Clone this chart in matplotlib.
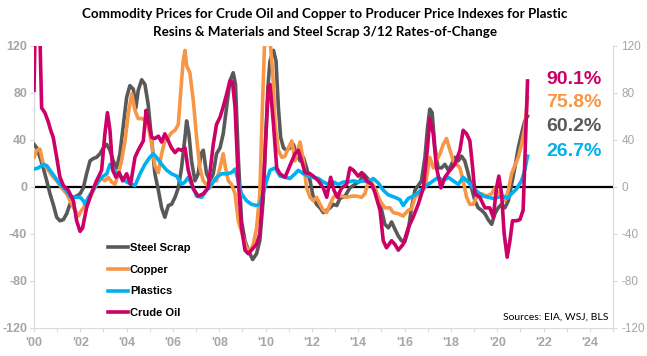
import matplotlib
matplotlib.use("Agg")
import matplotlib.pyplot as plt
from matplotlib.ticker import MultipleLocator

plt.rcParams["axes.unicode_minus"] = False

# --- data (year, 3/12 rate-of-change %) ---
crude_years = [2000.0, 2000.04, 2000.26, 2000.33, 2000.47, 2000.62, 2000.72, 2000.83, 2000.98,
               2001.12, 2001.27, 2001.48, 2001.7, 2001.84, 2001.99, 2002.1, 2002.27, 2002.49,
               2002.7, 2002.92, 2003.06, 2003.17, 2003.28, 2003.4, 2003.54, 2003.68, 2003.83,
               2004.0, 2004.17, 2004.36, 2004.5, 2004.72, 2004.84, 2004.93, 2005.08, 2005.22,
               2005.37, 2005.51, 2005.65, 2005.8, 2005.94, 2006.09, 2006.23, 2006.37, 2006.52,
               2006.66, 2006.88, 2007.09, 2007.31, 2007.52, 2007.74, 2007.88, 2008.03, 2008.17,
               2008.32, 2008.46, 2008.57, 2008.68, 2008.82, 2008.96, 2009.11, 2009.25, 2009.39,
               2009.61, 2009.75, 2009.9, 2010.04, 2010.12, 2010.19, 2010.34, 2010.48, 2010.62,
               2010.84, 2011.05, 2011.27, 2011.41, 2011.56, 2011.7, 2011.92, 2012.06, 2012.28,
               2012.49, 2012.64, 2012.81, 2012.95, 2013.1, 2013.28, 2013.5, 2013.64, 2013.79,
               2014.0, 2014.15, 2014.36, 2014.58, 2014.72, 2014.94, 2015.08, 2015.22, 2015.44,
               2015.58, 2015.73, 2015.94, 2016.16, 2016.37, 2016.59, 2016.81, 2016.99, 2017.09,
               2017.24, 2017.38, 2017.57, 2017.74, 2017.96, 2018.17, 2018.39, 2018.53, 2018.68,
               2018.82, 2018.94, 2019.04, 2019.25, 2019.47, 2019.68, 2019.83, 2019.97, 2020.07,
               2020.19, 2020.3, 2020.43, 2020.55, 2020.66, 2020.83, 2020.98, 2021.12, 2021.22,
               2021.31]
crude_vals = [82, 125, 125, 67, 63, 55, 48, 42, 25,
              8, 1, -3, -12, -29, -38, -35, -18, -5,
              5, 14, 45, 63, 48, 14, 8, 12, 5,
              11, 2, 25, 31, 39, 65, 56, 42, 41,
              43, 38, 45, 39, 33, 29, 32, 31, 33,
              14, -2, -8, -6, -1, 36, 53, 59, 68,
              79, 90, 89, 68, 5, -35, -54, -57, -54,
              -49, -40, -1, 53, 85, 87, 53, 16, 11,
              8, 18, 28, 31, 22, 12, 11, 9, 5,
              -1, -9, 8, -3, -9, -1, 2, 16, 14,
              9, 12, 5, 2, -5, -20, -46, -52, -46,
              -49, -54, -49, -35, -26, -15, -1, 33, 58,
              45, 16, -1, 8, 14, 19, 31, 48, 45,
              39, 16, -6, -9, -18, -18, -26, -1, 9,
              -6, -40, -60, -46, -29, -29, -28, -20, 39,
              90]

steel_years = [2000.0, 2000.12, 2000.26, 2000.4, 2000.55, 2000.69, 2000.83, 2000.98, 2001.12,
               2001.27, 2001.41, 2001.55, 2001.7, 2001.84, 2001.99, 2002.13, 2002.27, 2002.42,
               2002.56, 2002.7, 2002.85, 2002.99, 2003.14, 2003.28, 2003.42, 2003.57, 2003.71,
               2003.86, 2004.0, 2004.14, 2004.29, 2004.4, 2004.5, 2004.65, 2004.79, 2004.93,
               2005.08, 2005.22, 2005.37, 2005.51, 2005.65, 2005.8, 2005.94, 2006.09, 2006.23,
               2006.37, 2006.52, 2006.59, 2006.69, 2006.8, 2006.95, 2007.09, 2007.21, 2007.31,
               2007.45, 2007.6, 2007.74, 2007.88, 2008.03, 2008.17, 2008.32, 2008.46, 2008.6,
               2008.7, 2008.82, 2008.96, 2009.11, 2009.25, 2009.44, 2009.61, 2009.75, 2009.9,
               2010.0, 2010.1, 2010.19, 2010.34, 2010.45, 2010.55, 2010.65, 2010.77, 2010.91,
               2011.05, 2011.2, 2011.34, 2011.49, 2011.63, 2011.77, 2011.92, 2012.06, 2012.2,
               2012.35, 2012.49, 2012.64, 2012.78, 2012.93, 2013.07, 2013.21, 2013.43, 2013.64,
               2013.86, 2014.08, 2014.22, 2014.36, 2014.51, 2014.72, 2014.87, 2015.01, 2015.15,
               2015.3, 2015.44, 2015.58, 2015.73, 2015.87, 2016.01, 2016.16, 2016.3, 2016.45,
               2016.59, 2016.73, 2016.88, 2016.99, 2017.09, 2017.19, 2017.31, 2017.45, 2017.6,
               2017.74, 2017.89, 2018.03, 2018.17, 2018.32, 2018.46, 2018.6, 2018.75, 2018.89,
               2019.04, 2019.18, 2019.32, 2019.47, 2019.61, 2019.76, 2019.9, 2020.04, 2020.19,
               2020.33, 2020.48, 2020.62, 2020.76, 2020.91, 2021.05, 2021.19, 2021.31]
steel_vals = [36, 33, 25, 16, 5, -6, -15, -26, -29,
              -28, -23, -15, -9, -8, -6, -1, 11, 22,
              24, 25, 28, 33, 36, 31, 22, 16, 28,
              53, 76, 86, 83, 67, 82, 91, 87, 70,
              39, 11, -3, -18, -26, -16, -15, -9, -1,
              16, 42, 56, 45, 22, 5, 11, 28, 31,
              11, 5, 11, 28, 33, 45, 68, 90, 97,
              87, 25, -29, -46, -54, -62, -57, -46, -10,
              40, 85, 107, 116, 107, 68, 42, 33, 31,
              33, 36, 28, 22, 25, 16, 5, -9, -15,
              -18, -22, -20, -18, -15, -16, -10, -8, -1,
              2, 5, 11, 8, 4, -1, -10, -20, -32,
              -35, -30, -36, -42, -46, -47, -37, -18, -3,
              1, 5, 25, 50, 66, 63, 33, 16, 16,
              19, 14, 19, 25, 22, 26, 22, 11, -1,
              -12, -18, -20, -23, -28, -32, -23, -18, -15,
              -18, -12, 2, 16, 33, 45, 56, 60]

copper_years = [2000.0, 2000.12, 2000.26, 2000.4, 2000.55, 2000.69, 2000.83, 2000.98, 2001.19,
                2001.41, 2001.63, 2001.77, 2001.91, 2002.06, 2002.2, 2002.35, 2002.49, 2002.63,
                2002.78, 2002.92, 2003.06, 2003.21, 2003.35, 2003.5, 2003.64, 2003.78, 2003.93,
                2004.07, 2004.22, 2004.36, 2004.5, 2004.65, 2004.79, 2004.94, 2005.08, 2005.22,
                2005.37, 2005.51, 2005.65, 2005.8, 2005.94, 2006.09, 2006.23, 2006.34, 2006.44,
                2006.52, 2006.59, 2006.73, 2006.88, 2007.02, 2007.16, 2007.31, 2007.45, 2007.6,
                2007.74, 2007.88, 2008.03, 2008.17, 2008.27, 2008.39, 2008.53, 2008.68, 2008.82,
                2009.03, 2009.18, 2009.32, 2009.47, 2009.61, 2009.75, 2009.85, 2009.95, 2010.05,
                2010.19, 2010.31, 2010.41, 2010.55, 2010.7, 2010.84, 2010.98, 2011.13, 2011.27,
                2011.41, 2011.49, 2011.63, 2011.77, 2011.92, 2012.06, 2012.2, 2012.35, 2012.49,
                2012.64, 2012.78, 2012.93, 2013.07, 2013.28, 2013.5, 2013.72, 2013.93, 2014.15,
                2014.29, 2014.44, 2014.58, 2014.72, 2014.94, 2015.15, 2015.37, 2015.51, 2015.73,
                2015.94, 2016.16, 2016.3, 2016.45, 2016.66, 2016.88, 2017.09, 2017.24, 2017.38,
                2017.53, 2017.67, 2017.81, 2017.96, 2018.1, 2018.25, 2018.39, 2018.53, 2018.68,
                2018.82, 2018.96, 2019.11, 2019.32, 2019.54, 2019.76, 2019.9, 2020.04, 2020.19,
                2020.33, 2020.48, 2020.62, 2020.76, 2020.91, 2021.05, 2021.19, 2021.31]
copper_vals = [25, 31, 32, 19, 16, 12, 8, 5, -1,
               -6, -15, -20, -25, -20, -16, -12, -6, -1,
               5, 7, 5, 8, 4, 2, 11, 22, 39,
               62, 79, 65, 58, 58, 57, 50, 37, 18,
               12, 28, 39, 42, 46, 48, 53, 82, 107,
               116, 103, 97, 73, 42, 16, 5, 2, -1,
               5, 5, 16, 28, 16, 5, 2, -6, -29,
               -43, -52, -55, -49, -35, -6, 60, 119, 125,
               125, 96, 53, 31, 25, 26, 33, 39, 22,
               33, 38, 22, -1, -9, -12, -9, -15, -20,
               -22, -15, -9, -6, -8, -9, -8, -8, -9,
               -6, 5, 4, -2, -12, -18, -18, -22, -23,
               -25, -20, -19, -9, -6, -1, 25, 16, 22,
               28, 36, 41, 31, 22, 19, 16, 5, -9,
               -15, -15, -9, -6, -8, -6, -1, -5, -9,
               -12, -3, 11, 18, 25, 36, 50, 76]

plastics_years = [2000.0, 2000.19, 2000.4, 2000.55, 2000.69, 2000.91, 2001.12, 2001.34, 2001.55,
                  2001.77, 2001.99, 2002.13, 2002.2, 2002.35, 2002.49, 2002.7, 2002.92, 2003.14,
                  2003.28, 2003.42, 2003.6, 2003.78, 2004.0, 2004.22, 2004.36, 2004.58, 2004.79,
                  2005.0, 2005.15, 2005.29, 2005.51, 2005.73, 2005.94, 2006.16, 2006.37, 2006.52,
                  2006.66, 2006.88, 2007.02, 2007.24, 2007.45, 2007.67, 2007.88, 2008.1, 2008.32,
                  2008.53, 2008.68, 2008.82, 2008.96, 2009.18, 2009.39, 2009.61, 2009.75, 2009.9,
                  2010.04, 2010.19, 2010.41, 2010.62, 2010.84, 2011.05, 2011.27, 2011.41, 2011.63,
                  2011.85, 2012.06, 2012.28, 2012.49, 2012.71, 2012.93, 2013.14, 2013.36, 2013.57,
                  2013.79, 2014.0, 2014.22, 2014.44, 2014.65, 2014.87, 2015.08, 2015.3, 2015.58,
                  2015.8, 2015.94, 2016.16, 2016.37, 2016.59, 2016.81, 2017.02, 2017.24, 2017.45,
                  2017.67, 2017.89, 2018.1, 2018.32, 2018.53, 2018.75, 2018.96, 2019.18, 2019.4,
                  2019.61, 2019.83, 2020.04, 2020.26, 2020.45, 2020.62, 2020.83, 2021.05, 2021.19,
                  2021.31]
plastics_vals = [15, 16, 19, 18, 14, 8, 2, -2, -8,
                 -9, -9, -12, -15, -9, -5, 2, 8, 11,
                 19, 15, 11, 8, 4, 2, 1, 11, 19,
                 25, 28, 25, 19, 14, 11, 9, 2, 4,
                 8, -1, -8, -9, -3, 2, 8, 11, 11,
                 12, 15, 5, -6, -12, -15, -16, -15, -6,
                 5, 14, 16, 9, 8, 7, 11, 14, 11,
                 9, 8, 7, 4, 2, 4, 2, 4, 4,
                 5, 4, 5, 4, 7, 3, -3, -7, -9,
                 -11, -16, -10, -8, -5, -1, 2, 5, 8,
                 5, 8, 5, 2, 8, 4, -1, -5, -8,
                 -9, -10, -9, -8, -10, -6, -2, 5, 14,
                 26]

last_labels = ["90.1%", "75.8%", "60.2%", "26.7%"]

GRAY = "#595959"
ORANGE = "#F79646"
CYAN = "#00B0F0"
MAGENTA = "#CC0066"
TICK_GRAY = "#A6A6A6"
AXIS_GRAY = "#D9D9D9"

fig = plt.figure(figsize=(6.47, 3.56), dpi=100)
ax = fig.add_axes([34 / 647, 1 - 327.7 / 356, 579 / 647, 282 / 356])

lw = 2.6
ax.plot(steel_years, steel_vals, color=GRAY, lw=lw, label="Steel Scrap", zorder=3)
ax.plot(copper_years, copper_vals, color=ORANGE, lw=lw, label="Copper", zorder=4)
ax.plot(plastics_years, plastics_vals, color=CYAN, lw=lw, label="Plastics", zorder=5)
ax.plot(crude_years, crude_vals, color=MAGENTA, lw=lw, label="Crude Oil", zorder=6)
ax.axhline(0, color="black", lw=1.6, zorder=2)

ax.set_xlim(2000, 2025)
ax.set_ylim(-120, 120)
ax.yaxis.set_major_locator(MultipleLocator(40))
ax.xaxis.set_minor_locator(MultipleLocator(1))
ax.set_xticks(range(2000, 2025, 2))
ax.set_xticklabels(["'%02d" % (y % 100) for y in range(2000, 2025, 2)])

ax.tick_params(axis="both", which="both", colors=AXIS_GRAY, labelcolor=TICK_GRAY,
               length=3, width=0.8, labelsize=9)
ax.tick_params(axis="y", pad=2)
for lab in ax.get_xticklabels() + ax.get_yticklabels():
    lab.set_family("Liberation Sans")
    lab.set_weight("bold")

ax.spines["top"].set_visible(False)
for side in ["left", "right", "bottom"]:
    ax.spines[side].set_color(AXIS_GRAY)
    ax.spines[side].set_linewidth(0.8)

# right axis mirrors the left
ax2 = ax.twinx()
ax2.set_ylim(-120, 120)
ax2.yaxis.set_major_locator(MultipleLocator(40))
ax2.tick_params(axis="y", colors=AXIS_GRAY, labelcolor=TICK_GRAY, length=3, width=0.8,
                labelsize=8.5, pad=3)
for lab in ax2.get_yticklabels():
    lab.set_family("Liberation Sans")
for s in ax2.spines.values():
    s.set_visible(False)

leg = ax.legend(loc="upper left", bbox_to_anchor=(0.128, 0.30), frameon=False,
                handlelength=1.8, handletextpad=0.15, labelspacing=1.05,
                borderpad=0, borderaxespad=0,
                prop=dict(family="Liberation Sans", weight="bold", size=8))

title_lines = ["Commodity Prices for Crude Oil and Copper to Producer Price Indexes for Plastic",
               "Resins & Materials and Steel Scrap 3/12 Rates-of-Change"]
for line, yy in zip(title_lines, [13.5, 32]):
    fig.text(325 / 647, 1 - yy / 356, line, ha="center", va="center",
             fontsize=9.6, fontweight="bold", family="Lato")

label_colors = [MAGENTA, ORANGE, GRAY, CYAN]
label_y = [80, 102.7, 126.7, 151.7]
for txt, c, yy in zip(last_labels, label_colors, label_y):
    fig.text(546 / 647, 1 - yy / 356, txt, color=c, ha="left", va="center",
             fontsize=14, fontweight="bold", family="Liberation Sans")

fig.text(608 / 647, 1 - 317 / 356, "Sources: EIA, WSJ, BLS", ha="right", va="center",
         fontsize=7.5, family="Lato", color="black")

fig.savefig("out.png", dpi=100)
